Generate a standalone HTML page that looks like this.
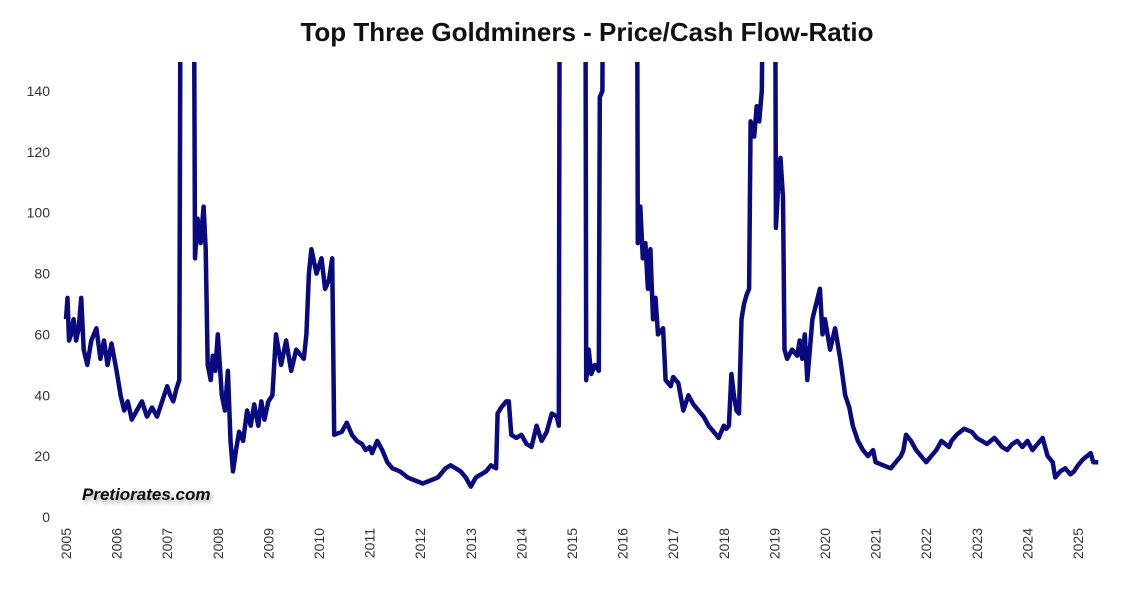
<!DOCTYPE html>
<html><head><meta charset="utf-8"><style>
body{margin:0;background:#fff;}
svg{display:block;font-family:"Liberation Sans",sans-serif;}
</style></head><body>
<svg id="chart" width="1141" height="591">
<defs><clipPath id="clip"><rect x="40" y="62" width="1100" height="470"/></clipPath>
<filter id="sh"><feDropShadow dx="2" dy="3" stdDeviation="2" flood-color="#000" flood-opacity="0.35"/></filter></defs>
<text x="587" y="41" text-anchor="middle" font-size="26" font-weight="bold" fill="#111">Top Three Goldminers - Price/Cash Flow-Ratio</text>
<g id="yaxis"></g>
<g id="xaxis"></g>
<g clip-path="url(#clip)"><path id="line" fill="none" stroke="#0a0a80" stroke-width="4.5" stroke-linejoin="round"/></g>
<text x="82" y="500" font-size="17" font-weight="bold" font-style="italic" fill="#111" filter="url(#sh)">Pretiorates.com</text>
</svg>
<script>
const yTicks=[0,20,40,60,80,100,120,140];
const xYears=[2005,2006,2007,2008,2009,2010,2011,2012,2013,2014,2015,2016,2017,2018,2019,2020,2021,2022,2023,2024,2025];
const dates=[
2005.0,2005.03,2005.06,2005.1,2005.15,2005.2,2005.25,2005.3,2005.35,2005.42,2005.5,2005.6,2005.68,2005.75,2005.82,2005.9,
2006.0,2006.08,2006.15,2006.22,2006.3,2006.4,2006.5,2006.6,2006.7,2006.8,2006.9,
2007.0,2007.06,2007.12,2007.18,2007.24,2007.27,2007.52,2007.55,2007.6,2007.66,2007.72,2007.76,2007.8,2007.86,2007.9,2007.95,
2008.0,2008.08,2008.14,2008.2,2008.25,2008.3,2008.36,2008.42,2008.5,2008.58,2008.65,2008.72,2008.8,2008.86,2008.92,
2009.0,2009.08,2009.15,2009.25,2009.35,2009.45,2009.55,2009.7,2009.75,2009.8,2009.85,2009.95,
2010.05,2010.12,2010.2,2010.26,2010.3,2010.45,2010.55,2010.65,2010.75,2010.85,2010.92,
2011.0,2011.05,2011.15,2011.25,2011.35,2011.45,2011.6,2011.75,2011.9,
2012.05,2012.2,2012.35,2012.5,2012.6,2012.7,2012.8,2012.9,
2013.0,2013.1,2013.2,2013.3,2013.4,2013.5,2013.53,2013.6,2013.7,2013.75,2013.8,2013.9,
2014.0,2014.1,2014.2,2014.3,2014.4,2014.5,2014.6,2014.7,2014.74,2014.76,
2015.26,2015.28,2015.33,2015.38,2015.45,2015.53,2015.55,2015.6,2015.62,
2016.28,2016.3,2016.35,2016.4,2016.45,2016.5,2016.55,2016.6,2016.65,2016.7,2016.8,2016.85,2016.95,
2017.0,2017.1,2017.2,2017.3,2017.4,2017.5,2017.6,2017.7,2017.8,2017.9,
2018.0,2018.05,2018.1,2018.15,2018.2,2018.25,2018.3,2018.35,2018.4,2018.45,2018.5,2018.53,2018.6,2018.65,2018.7,2018.75,2018.8,
2019.01,2019.03,2019.08,2019.12,2019.17,2019.2,2019.25,2019.35,2019.45,2019.5,2019.55,2019.6,2019.65,2019.75,2019.9,2019.95,
2020.0,2020.1,2020.2,2020.3,2020.4,2020.48,2020.55,2020.65,2020.75,2020.85,2020.95,
2021.0,2021.15,2021.3,2021.4,2021.5,2021.55,2021.6,2021.7,2021.8,2021.9,
2022.0,2022.1,2022.2,2022.3,2022.45,2022.5,2022.6,2022.75,2022.9,
2023.0,2023.1,2023.2,2023.35,2023.5,2023.6,2023.7,2023.8,2023.9,
2024.0,2024.1,2024.2,2024.3,2024.4,2024.5,2024.55,2024.65,2024.75,2024.85,2024.92,
2025.0,2025.1,2025.25,2025.3,2025.4];
const values=[
65,72,58,60,65,58,62,72,55,50,58,62,52,58,50,57,
48,40,35,38,32,35,38,33,36,33,38,
43,40,38,42,45,220,220,85,98,90,102,88,50,45,53,48,
60,40,35,48,25,15,22,28,25,35,30,37,30,38,32,
38,40,60,50,58,48,55,52,60,80,88,80,
85,75,78,85,27,28,31,27,25,24,22,
23,21,25,22,18,16,15,13,12,
11,12,13,16,17,16,15,13,
10,13,14,15,17,16,34,36,38,38,27,26,
27,24,23,30,25,28,34,33,30,220,
220,45,55,47,50,48,138,140,220,
220,90,102,85,90,75,88,65,72,60,62,45,43,
46,44,35,40,37,35,33,30,28,26,
30,29,30,47,40,35,34,65,70,73,75,130,125,135,130,140,220,
220,95,110,118,105,55,52,55,53,58,52,60,45,65,75,60,
65,55,62,52,40,36,30,25,22,20,22,
18,17,16,18,20,22,27,25,22,20,
18,20,22,25,23,25,27,29,28,
26,25,24,26,23,22,24,25,23,
25,22,24,26,20,18,13,15,16,14,15,
17,19,21,18,18];
const ns="http://www.w3.org/2000/svg";
const x=yr=>66+(yr-2005)*50.6;
const y=v=>517-v*3.043;
const ya=document.getElementById('yaxis'),xa=document.getElementById('xaxis');
yTicks.forEach(t=>{const e=document.createElementNS(ns,'text');


e.setAttribute('x',50);e.setAttribute('y',y(t)+5);e.setAttribute('text-anchor','end');e.setAttribute('font-size','14');e.setAttribute('fill','#333');e.textContent=t;ya.appendChild(e);});
xYears.forEach(t=>{const e=document.createElementNS(ns,'text');


e.setAttribute('transform','translate('+(x(t)+5)+',528) rotate(-90)');e.setAttribute('text-anchor','end');e.setAttribute('font-size','14');e.setAttribute('fill','#333');e.textContent=t;xa.appendChild(e);});
const n=Math.min(dates.length,values.length);
let d='';
for(let i=0;i<n;i++){d+=(i?'L':'M')+x(dates[i]).toFixed(1)+','+y(values[i]).toFixed(1);}
document.getElementById('line').setAttribute('d',d);
</script>
</body></html>
